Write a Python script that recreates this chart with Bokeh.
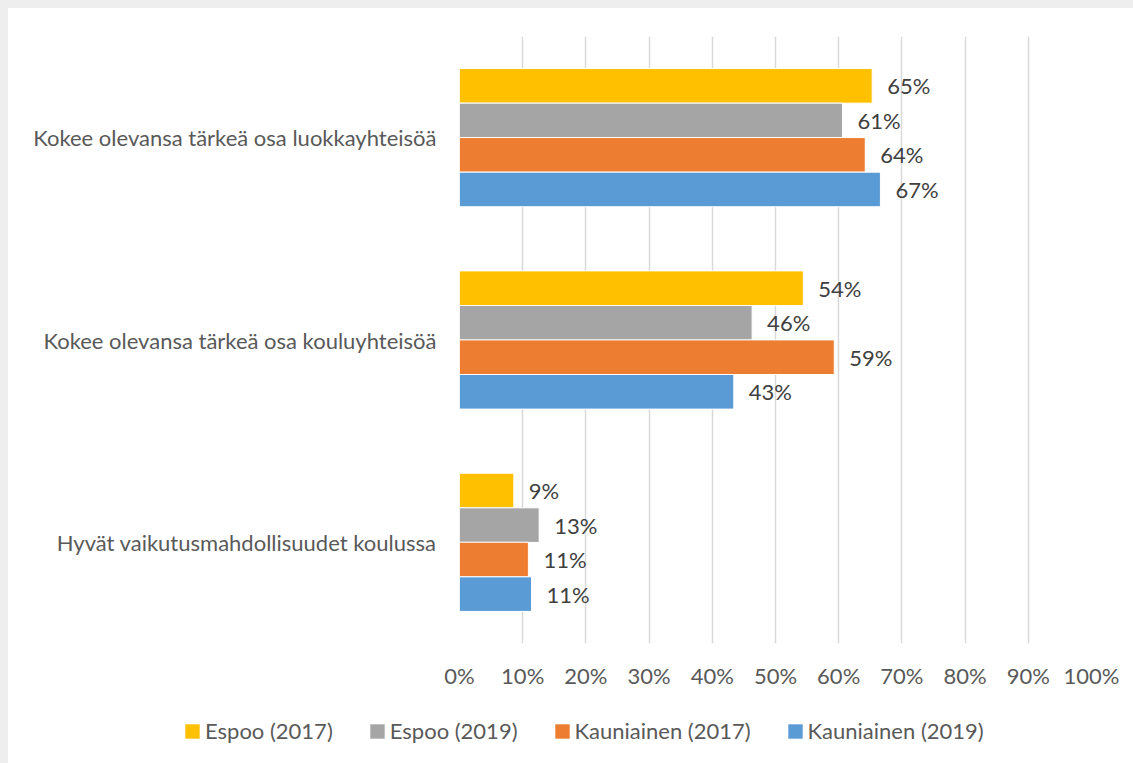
from bokeh.plotting import figure
from bokeh.layouts import column
from bokeh.models import FactorRange, ColumnDataSource, Legend, LegendItem, PrintfTickFormatter, FixedTicker
from bokeh.transform import dodge
from bokeh.core.properties import value
from bokeh.embed import file_html
from bokeh.resources import INLINE

categories = [
    "Hyvät vaikutusmahdollisuudet koulussa",
    "Kokee olevansa tärkeä osa kouluyhteisöä",
    "Kokee olevansa tärkeä osa luokkayhteisöä",
]
series_names = ["Espoo (2017)", "Espoo (2019)", "Kauniainen (2017)", "Kauniainen (2019)"]
espoo_2017 = [8.6, 54.4, 65.3]
espoo_2019 = [12.6, 46.3, 60.6]
kauniainen_2017 = [10.9, 59.3, 64.2]
kauniainen_2019 = [11.4, 43.4, 66.6]
x_ticks = [0, 10, 20, 30, 40, 50, 60, 70, 80, 90, 100]

series_values = [espoo_2017, espoo_2019, kauniainen_2017, kauniainen_2019]
colors = ["#FFC000", "#A5A5A5", "#ED7D31", "#5B9BD5"]
offsets = [0.256, 0.085, -0.085, -0.256]
bar_h = 0.171

FONT = "Lato"
FS = "22px"

p = figure(
    y_range=FactorRange(*categories),
    x_range=(0, 100),
    width=1125, height=690,
    min_border_left=451, min_border_right=42, min_border_top=28, min_border_bottom=55,
    output_backend="svg", toolbar_location=None,
)
p.frame_align = False
p.outline_line_color = None
p.background_fill_color = "white"
p.border_fill_color = "white"

for name, vals, col, off in zip(series_names, series_values, colors, offsets):
    src = ColumnDataSource(dict(cat=categories, val=vals,
                                lab=[f"{round(v):d}%" for v in vals]))
    p.hbar(y=dodge("cat", off, range=p.y_range), right="val", left=0, height=bar_h,
           source=src, fill_color=col, line_color="white", line_width=1)
    p.text(x="val", y=dodge("cat", off, range=p.y_range), text="lab", source=src,
           x_offset=15, text_align="left", text_baseline="middle",
           text_font=value(FONT), text_font_size=FS, text_color="#404040")

p.xaxis.ticker = FixedTicker(ticks=x_ticks)
p.xaxis.formatter = PrintfTickFormatter(format="%d%%")
for ax in (p.xaxis, p.yaxis):
    ax.axis_line_color = None
    ax.major_tick_line_color = None
    ax.minor_tick_line_color = None
    ax.major_tick_out = 0
    ax.major_tick_in = 0
    ax.major_label_text_font = FONT
    ax.major_label_text_font_size = FS
    ax.major_label_text_color = "#595959"
p.xaxis.major_label_standoff = 18
p.yaxis.major_label_standoff = 23

p.xgrid.grid_line_color = "#D9D9D9"
p.xgrid.grid_line_width = 1.5
p.ygrid.grid_line_color = None

# legend strip below the chart
lg = figure(width=1125, height=65, x_range=(0, 1), y_range=(0, 1),
            min_border_left=0, min_border_right=0, min_border_top=0, min_border_bottom=0,
            output_backend="svg", toolbar_location=None)
lg.frame_align = False
lg.axis.visible = False
lg.grid.grid_line_color = None
lg.outline_line_color = None
lg.border_fill_color = "white"
lg.background_fill_color = "white"
items = []
for name, col in zip(series_names, colors):
    r = lg.hbar(y=[0.5], left=[0], right=[0], height=0.1, fill_color=col, line_color=None)
    items.append(LegendItem(label=name, renderers=[r]))
legend = Legend(items=items, orientation="horizontal", location=(175, 19),
                glyph_width=18, glyph_height=18, label_standoff=4, spacing=35,
                padding=0, margin=0, border_line_color=None, background_fill_alpha=0,
                label_text_font=FONT, label_text_font_size=FS, label_text_color="#595959")
lg.add_layout(legend, "center")

layout = column(p, lg, spacing=0)
html = file_html(layout, INLINE)
css = ("<style>html,body{background:#ffffff !important;}"
       "body{border-left:8px solid #eeeeee !important;border-top:8px solid #eeeeee !important;"
       "box-sizing:border-box;}</style></head>")
html = html.replace("</head>", css, 1)
open("out.html", "w").write(html)
